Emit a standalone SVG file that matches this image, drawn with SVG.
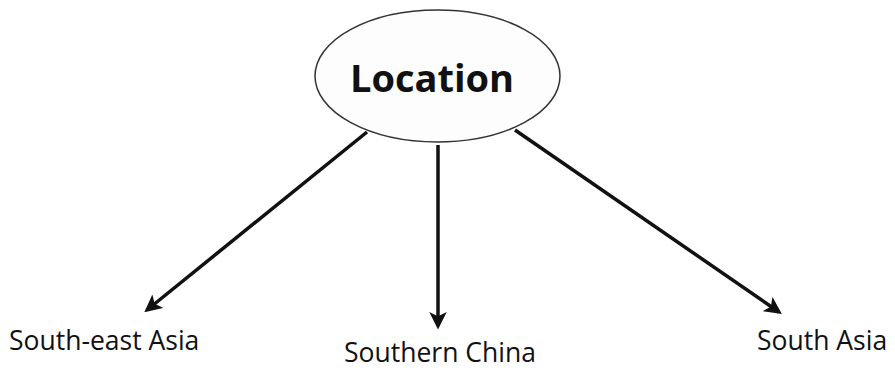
<svg xmlns="http://www.w3.org/2000/svg" width="895" height="370" viewBox="0 0 895 370">
<style>
.lbl{font-family:"Open Sans","Liberation Sans",sans-serif;font-size:26.5px;fill:#111}
.title{font-family:"Open Sans","Liberation Sans",sans-serif;font-size:38px;font-weight:bold;fill:#111}
.conn{stroke:#111;stroke-width:3.5;fill:none;marker-end:url(#ah)}
</style>
<defs>
<marker id="ah" markerWidth="5" markerHeight="5" refX="4" refY="2.5" orient="auto" markerUnits="strokeWidth">
<path d="M0,0 L5,2.5 L0,5 L1.2,2.5 Z" fill="#111"/>
</marker>
</defs>
<rect width="895" height="370" fill="#fff"/>
<g id="location">
<ellipse cx="437.5" cy="76" rx="122.5" ry="66" fill="#fdfdfd" stroke="#333" stroke-width="1.5"/>
<text class="title" x="432" y="92" text-anchor="middle">Location</text>
</g>
<g id="connectors">
<line class="conn" x1="367" y1="132" x2="147" y2="310"/>
<line class="conn" x1="438" y1="145" x2="438" y2="326"/>
<line class="conn" x1="515" y1="130" x2="779" y2="312"/>
</g>
<g id="sea"><text class="lbl" x="9" y="350">South-east Asia</text></g>
<g id="sc"><text class="lbl" x="344" y="362">Southern China</text></g>
<g id="sa"><text class="lbl" x="757" y="350">South Asia</text></g>
</svg>
